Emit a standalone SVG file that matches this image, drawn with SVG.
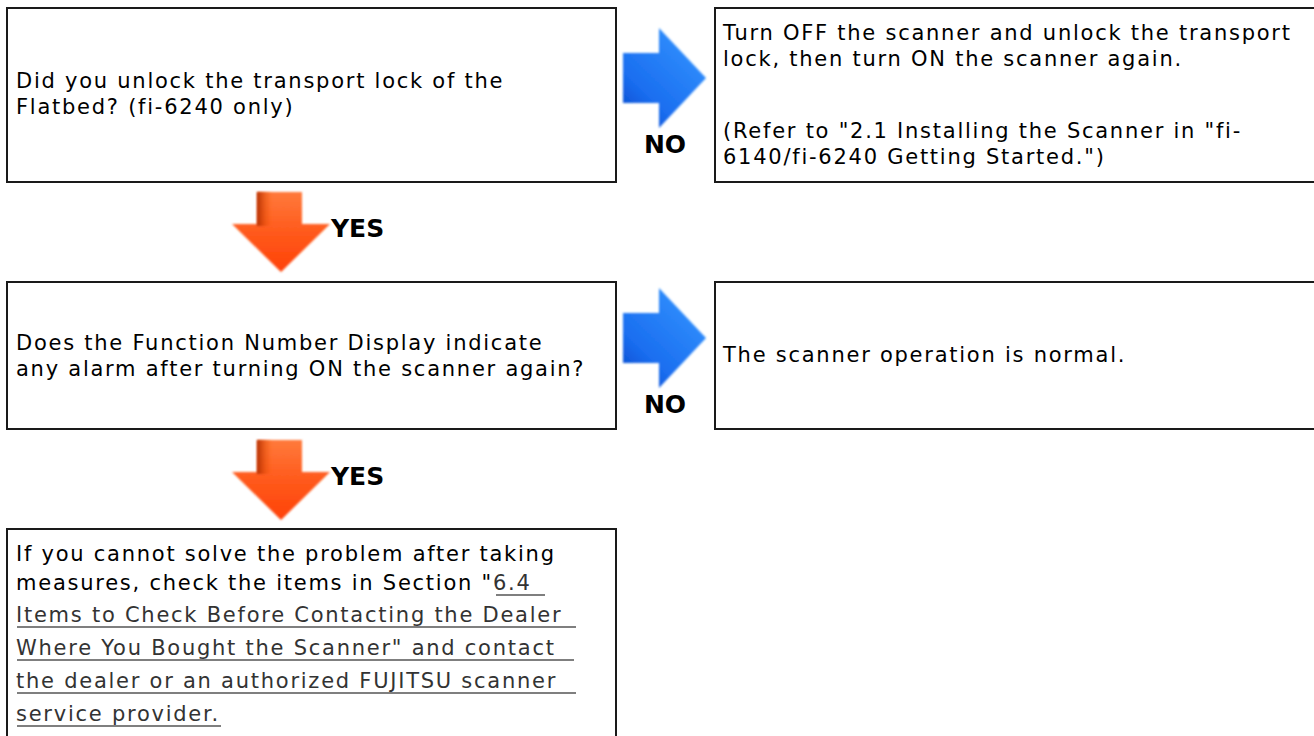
<svg xmlns="http://www.w3.org/2000/svg" width="1314" height="736" viewBox="0 0 1314 736">
  <style>
    .box { fill: #ffffff; stroke: #1a1a1a; stroke-width: 2; }
    .t { font-family: "DejaVu Sans", Verdana, sans-serif; font-size: 21px; letter-spacing: 1.75px; fill: #000000; }
    .lnk { fill: #333333; }
    .ul { stroke: #555555; stroke-width: 1.5; }
    .lbl { font-family: "DejaVu Sans", Verdana, sans-serif; font-size: 25px; font-weight: bold; fill: #000000; }
    .blue { fill: url(#gBlue); filter: url(#soft); }
    .orange { fill: url(#gOrange); filter: url(#soft); }
  </style>
  <defs>
    <linearGradient id="gBlue" x1="1" y1="0" x2="0.2" y2="1">
      <stop offset="0" stop-color="#6cb8ff"/>
      <stop offset="0.3" stop-color="#2c88fa"/>
      <stop offset="0.75" stop-color="#1a6ef0"/>
      <stop offset="1" stop-color="#0a4fd2"/>
    </linearGradient>
    <linearGradient id="gOrange" x1="0" y1="0" x2="0" y2="1">
      <stop offset="0" stop-color="#ff7a3c"/>
      <stop offset="0.5" stop-color="#ff5a1c"/>
      <stop offset="1" stop-color="#ff4208"/>
    </linearGradient>
    <linearGradient id="gShadeO" x1="0" y1="0" x2="1" y2="0">
      <stop offset="0" stop-color="#a82800" stop-opacity="0.9"/>
      <stop offset="0.35" stop-color="#ff5a1c" stop-opacity="0"/>
    </linearGradient>
    <filter id="soft" x="-10%" y="-10%" width="120%" height="120%">
      <feGaussianBlur stdDeviation="0.9"/>
    </filter>
  </defs>

  <g id="node-q1">
    <rect class="box" x="7" y="8" width="609" height="174"/>
    <text class="t" x="16" y="88">Did you unlock the transport lock of the</text>
    <text class="t" x="16" y="114">Flatbed? (fi-6240 only)</text>
  </g>

  <g id="node-unlock">
    <rect class="box" x="715" y="8" width="610" height="174"/>
    <text class="t" x="723" y="40">Turn OFF the scanner and unlock the transport</text>
    <text class="t" x="723" y="66">lock, then turn ON the scanner again.</text>
    <text class="t" x="723" y="138">(Refer to "2.1 Installing the Scanner in "fi-</text>
    <text class="t" x="723" y="164">6140/fi-6240 Getting Started.")</text>
  </g>

  <g id="node-q2">
    <rect class="box" x="7" y="282" width="609" height="147"/>
    <text class="t" x="16" y="350">Does the Function Number Display indicate</text>
    <text class="t" x="16" y="376">any alarm after turning ON the scanner again?</text>
  </g>

  <g id="node-normal">
    <rect class="box" x="715" y="282" width="610" height="147"/>
    <text class="t" x="723" y="362">The scanner operation is normal.</text>
  </g>

  <g id="node-contact">
    <rect class="box" x="7" y="529" width="609" height="220"/>
    <text class="t" x="16" y="561">If you cannot solve the problem after taking</text>
    <text class="t" x="16" y="590">measures, check the items in Section "<tspan class="lnk">6.4</tspan></text>
    <text class="t lnk" x="16" y="622">Items to Check Before Contacting the Dealer</text>
    <text class="t lnk" x="16" y="655">Where You Bought the Scanner" and contact</text>
    <text class="t lnk" x="16" y="688">the dealer or an authorized FUJITSU scanner</text>
    <text class="t lnk" x="16" y="721">service provider.</text>
    <line class="ul" x1="496" y1="595" x2="545" y2="595"/>
    <line class="ul" x1="17" y1="627" x2="576" y2="627"/>
    <line class="ul" x1="17" y1="660" x2="574" y2="660"/>
    <line class="ul" x1="17" y1="693" x2="576" y2="693"/>
    <line class="ul" x1="17" y1="726" x2="221" y2="726"/>
  </g>

  <g id="connectors">
    <g id="no-1">
      <polygon class="blue" points="623,53 659,53 659,28 706,78 659,128 659,103 623,103"/>
      <text class="lbl" x="665" y="153" text-anchor="middle">NO</text>
    </g>
    <g id="no-2">
      <polygon class="blue" points="623,313 659,313 659,288 706,338 659,388 659,363 623,363"/>
      <text class="lbl" x="665" y="413" text-anchor="middle">NO</text>
    </g>
    <g id="yes-1">
      <polygon class="orange" points="257,192 302,192 302,224 330,224 281,272 232,224 257,224"/>
      <rect x="257" y="192" width="45" height="34" fill="url(#gShadeO)" filter="url(#soft)"/>
      <text class="lbl" x="331" y="237">YES</text>
    </g>
    <g id="yes-2">
      <polygon class="orange" points="257,440 302,440 302,472 330,472 281,520 232,472 257,472"/>
      <rect x="257" y="440" width="45" height="34" fill="url(#gShadeO)" filter="url(#soft)"/>
      <text class="lbl" x="331" y="485">YES</text>
    </g>
  </g>
</svg>
